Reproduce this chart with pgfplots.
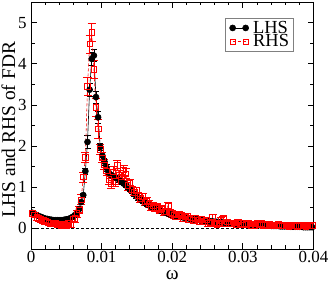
\documentclass[border=0pt]{standalone}
\usepackage{fontspec}
\setmainfont{Liberation Serif}
\usepackage{pgfplots}
\usepackage{pgfplotstable}
\pgfplotsset{compat=1.18}
\pgfplotstableread{
x L eL R eR
0.0002 0.38 0.03 0.36 0.07
0.0005 0.35 0.03 0.33 0.07
0.0008 0.32 0.03 0.27 0.07
0.0011 0.30 0.03 0.25 0.07
0.0014 0.28 0.03 0.22 0.07
0.0017 0.26 0.03 0.20 0.07
0.0020 0.24 0.03 0.17 0.07
0.0023 0.23 0.03 0.16 0.07
0.0026 0.22 0.03 0.14 0.07
0.0029 0.21 0.03 0.13 0.07
0.0032 0.20 0.03 0.12 0.07
0.0035 0.20 0.03 0.13 0.07
0.0038 0.20 0.03 0.10 0.07
0.0041 0.20 0.03 0.11 0.07
0.0044 0.20 0.03 0.08 0.07
0.0047 0.21 0.03 0.10 0.07
0.0050 0.22 0.03 0.07 0.07
0.0053 0.23 0.03 0.12 0.07
0.0056 0.25 0.03 0.09 0.07
0.0059 0.28 0.03 0.22 0.08
0.0062 0.32 0.03 0.24 0.08
0.0065 0.38 0.03 0.36 0.08
0.0068 0.47 0.03 0.45 0.08
0.0071 0.64 0.05 0.70 0.12
0.0074 0.81 0.05 1.25 0.12
0.0077 1.39 0.08 1.73 0.12
0.0080 2.10 0.15 3.45 0.22
0.0083 3.37 0.15 4.48 0.22
0.0086 4.12 0.15 4.76 0.22
0.0089 4.20 0.15 3.87 0.22
0.0092 3.19 0.15 2.94 0.22
0.0095 2.70 0.15 2.42 0.22
0.0098 1.98 0.08 1.92 0.12
0.0101 1.77 0.08 1.72 0.12
0.0104 1.62 0.08 1.55 0.12
0.0107 1.47 0.08 1.40 0.12
0.0110 1.36 0.08 1.20 0.12
0.0113 1.30 0.05 1.10 0.12
0.0116 1.27 0.05 1.38 0.12
0.0119 1.25 0.05 1.15 0.12
0.0122 1.22 0.05 1.53 0.12
0.0125 1.18 0.05 1.30 0.12
0.0128 1.13 0.05 1.25 0.12
0.0131 1.09 0.05 1.42 0.12
0.0134 1.05 0.05 1.33 0.12
0.0137 1.00 0.05 1.05 0.12
0.0140 0.95 0.05 1.12 0.08
0.0143 0.90 0.05 0.95 0.08
0.0146 0.84 0.05 0.88 0.08
0.0149 0.79 0.05 0.92 0.08
0.0152 0.74 0.05 0.80 0.08
0.0155 0.70 0.05 0.72 0.08
0.0158 0.66 0.05 0.78 0.08
0.0161 0.62 0.05 0.65 0.08
0.0164 0.59 0.05 0.68 0.08
0.0167 0.56 0.05 0.60 0.08
0.0170 0.53 0.05 0.52 0.08
0.0173 0.50 0.05 0.55 0.08
0.0176 0.48 0.05 0.49 0.08
0.0179 0.46 0.05 0.52 0.08
0.0182 0.44 0.05 0.45 0.08
0.0185 0.42 0.03 0.48 0.08
0.0188 0.40 0.03 0.40 0.08
0.0191 0.38 0.03 0.42 0.08
0.0194 0.36 0.03 0.55 0.08
0.0197 0.34 0.03 0.38 0.08
0.0200 0.33 0.03 0.36 0.08
0.0203 0.31 0.03 0.33 0.08
0.0206 0.30 0.03 0.30 0.08
0.0209 0.29 0.03 0.34 0.08
0.0212 0.28 0.03 0.31 0.08
0.0215 0.27 0.03 0.24 0.06
0.0218 0.26 0.03 0.28 0.06
0.0221 0.25 0.03 0.30 0.06
0.0224 0.24 0.03 0.22 0.06
0.0227 0.23 0.03 0.26 0.06
0.0230 0.22 0.03 0.20 0.06
0.0233 0.22 0.03 0.24 0.06
0.0236 0.21 0.03 0.21 0.06
0.0239 0.20 0.03 0.16 0.06
0.0242 0.20 0.03 0.22 0.06
0.0245 0.19 0.03 0.18 0.06
0.0248 0.18 0.03 0.21 0.06
0.0251 0.18 0.03 0.12 0.06
0.0254 0.17 0.03 0.15 0.06
0.0257 0.17 0.03 0.28 0.06
0.0260 0.16 0.03 0.13 0.06
0.0263 0.16 0.03 0.10 0.06
0.0266 0.15 0.03 0.14 0.06
0.0269 0.15 0.03 0.20 0.06
0.0272 0.14 0.03 0.24 0.06
0.0275 0.14 0.03 0.12 0.06
0.0278 0.13 0.03 0.16 0.06
0.0281 0.13 0.03 0.11 0.06
0.0284 0.12 0.03 0.12 0.06
0.0287 0.12 0.03 0.14 0.06
0.0290 0.12 0.03 0.10 0.06
0.0293 0.11 0.03 0.16 0.06
0.0296 0.11 0.03 0.12 0.06
0.0299 0.10 0.03 0.09 0.06
0.0302 0.10 0.03 0.13 0.06
0.0305 0.10 0.03 0.10 0.05
0.0308 0.09 0.03 0.12 0.05
0.0311 0.09 0.03 0.08 0.05
0.0314 0.09 0.03 0.11 0.05
0.0317 0.08 0.03 0.07 0.05
0.0320 0.08 0.03 0.12 0.05
0.0323 0.08 0.03 0.09 0.05
0.0326 0.08 0.03 0.13 0.05
0.0329 0.07 0.03 0.07 0.05
0.0332 0.07 0.03 0.10 0.05
0.0335 0.07 0.03 0.08 0.05
0.0338 0.07 0.03 0.11 0.05
0.0341 0.06 0.03 0.06 0.05
0.0344 0.06 0.03 0.09 0.05
0.0347 0.06 0.03 0.07 0.05
0.0350 0.06 0.03 0.10 0.05
0.0353 0.05 0.03 0.06 0.05
0.0356 0.05 0.03 0.08 0.05
0.0359 0.05 0.03 0.07 0.05
0.0362 0.05 0.03 0.09 0.05
0.0365 0.05 0.03 0.05 0.05
0.0368 0.04 0.03 0.08 0.05
0.0371 0.04 0.03 0.06 0.05
0.0374 0.04 0.03 0.08 0.05
0.0377 0.04 0.03 0.05 0.05
0.0380 0.04 0.03 0.07 0.05
0.0383 0.04 0.03 0.06 0.05
0.0386 0.03 0.03 0.08 0.05
0.0389 0.03 0.03 0.05 0.05
0.0392 0.03 0.03 0.07 0.05
0.0395 0.03 0.03 0.06 0.05
0.0398 0.03 0.03 0.08 0.05
}\datatable
\begin{document}
\begin{tikzpicture}
\begin{axis}[
  at={(0,0)}, anchor=south west,
  scale only axis, width=282.5bp, height=247bp,
  xmin=0, xmax=0.04, ymin=-0.5, ymax=5.5,
  scaled x ticks=false, scaled y ticks=false,
  xtick={0,0.01,0.02,0.03,0.04},
  xticklabels={0,0.01,0.02,0.03,0.04},
  ytick={0,1,2,3,4,5},
  yticklabels={0,1,2,3,4,5},
  minor x tick num=4, minor y tick num=1,
  tick align=inside,
  major tick length=6bp, minor tick length=3.5bp,
  every tick/.style={black, line width=0.8pt},
  axis line style={line width=1pt},
  ticklabel style={font=\fontsize{17}{17}\selectfont},
  xticklabel style={yshift=1bp},
  yticklabel style={xshift=-1bp},
  xlabel={ω},
  ylabel={LHS and RHS of FDR},
  label style={font=\fontsize{19.5}{19.5}\selectfont},
  xlabel style={at={(axis description cs:0.5,-0.106)}, anchor=center, inner sep=0pt},
  ylabel style={at={(axis description cs:-0.08,0.482)}, anchor=center},
  legend style={at={(axis description cs:0.688,0.934)}, anchor=north west,
    draw=gray, line width=0.6pt, inner xsep=3bp, inner ysep=1bp,
    font=\fontsize{18.5}{18.5}\selectfont, row sep=-3bp,
    nodes={inner sep=1.5bp}},
  legend cell align=left,
  legend image code/.code={\pgfpathrectangle{\pgfpoint{-4bp}{-3bp}}{\pgfpoint{21bp}{6bp}}\pgfusepath{discard}\draw[#1] plot coordinates {(0bp,0bp) (13bp,0bp)};},
]
\addplot[black, dashed, line width=0.5pt, dash pattern=on 3bp off 2bp, forget plot] coordinates {(0,0) (0.04,0)};
\addplot[black, line width=0.6pt, mark=*, mark size=3bp, mark options={solid, fill=black},
  error bars/.cd, y dir=both, y explicit,
  error bar style={black, line width=0.6pt},
  error mark options={rotate=90, mark size=3bp, line width=0.6pt}]
  table[x=x, y=L, y error=eL] {\datatable};
\addlegendentry{\kern2bp LHS}
\addplot[red, line width=0.6pt, dash pattern=on 3bp off 2bp, mark=square, mark size=2.8bp, mark options={solid, red, line width=0.6pt},
  error bars/.cd, y dir=both, y explicit,
  error bar style={red, solid, line width=0.6pt},
  error mark options={rotate=90, mark size=4bp, line width=0.6pt, solid}]
  table[x=x, y=R, y error=eR] {\datatable};
\addlegendentry{\kern2bp RHS}
\end{axis}
\pgfresetboundingbox
\path (-31bp,-32bp) rectangle (301bp,249bp);
\end{tikzpicture}
\end{document}
